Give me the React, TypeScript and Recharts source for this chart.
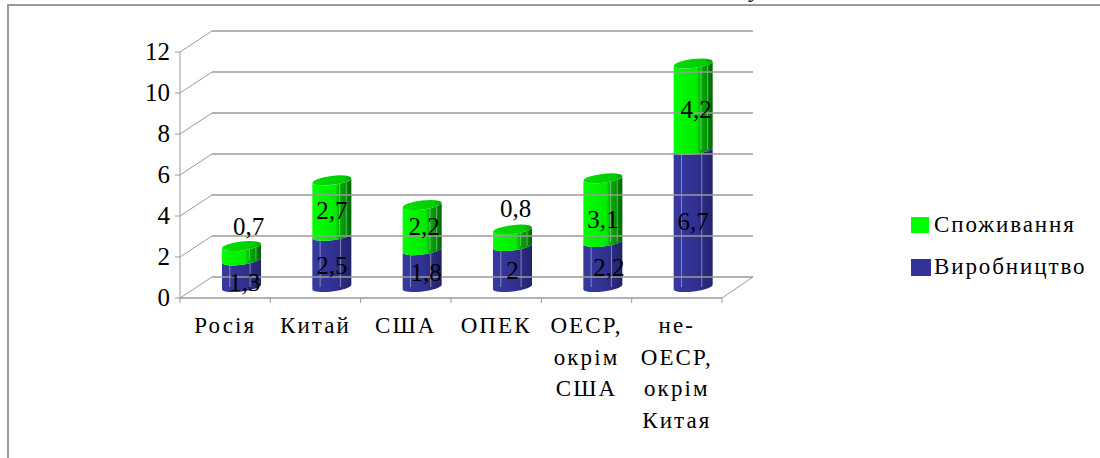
import { BarChart, Bar, XAxis, YAxis, LabelList, Legend } from "recharts";

const categories = ["Росія", "Китай", "США", "ОПЕК", "ОЕСР, окрім США", "не- ОЕСР, окрім Китая"];
const production = [1.3, 2.5, 1.8, 2, 2.2, 6.7];
const consumption = [0.7, 2.7, 2.2, 0.8, 3.1, 4.2];
const yTicks = [0, 2, 4, 6, 8, 10, 12];

const data = categories.map((name, i) => ({ name, production: production[i], consumption: consumption[i] }));

const CHART_W = 1100;
const CHART_H = 458;
const PLOT_LEFT = 180;
const PLOT_RIGHT = 722;
const PLOT_TOP = 52;
const PLOT_BOTTOM = 298;
const BAND = (PLOT_RIGHT - PLOT_LEFT) / categories.length;
const LEGEND_W = 190;

// the fake 3D floor: how far the back wall sits from the front plane
const DEPTH_X = 31;
const DEPTH_Y = 21;
// columns stand halfway into that depth
const BAR_SHIFT_X = 16;
const BAR_SHIFT_Y = -11;
const TILT = 7;

const GRID = "#9a9a9a";
const FONT = "'Liberation Serif', serif";

// hand placed labels, same as in the source workbook
const productionNudge = [[3, 9], [0, 5], [4, 4], [0, 4], [6, 4], [0, 4]];
const consumptionNudge = [[7, -26], [0, 3], [2, -1], [3, -29], [0, 10], [3, 3]];

function YTick({ y, payload }: any) {
  const value = payload.value;
  const fx = PLOT_LEFT;
  return (
    <g>
      <line x1={fx - 5} y1={y} x2={fx} y2={y} stroke={GRID} />
      <line x1={fx} y1={y} x2={fx + DEPTH_X + 1} y2={y - DEPTH_Y} stroke={GRID} />
      <line x1={fx + DEPTH_X + 1} y1={y - DEPTH_Y} x2={PLOT_RIGHT + DEPTH_X} y2={y - DEPTH_Y} stroke={GRID} strokeWidth={1.4} />
      {value === 0 && (
        <line x1={PLOT_RIGHT} y1={y} x2={PLOT_RIGHT + DEPTH_X} y2={y - DEPTH_Y} stroke={GRID} />
      )}
      <text x={fx - 10} y={y + 8} textAnchor="end" fontFamily={FONT} fontSize={25} fill="#000">
        {value}
      </text>
    </g>
  );
}

function XTick({ x, payload, index }: any) {
  const lines = String(payload.value).split(" ");
  return (
    <g>
      <line x1={x - BAND / 2} y1={PLOT_BOTTOM} x2={x - BAND / 2} y2={PLOT_BOTTOM + 5} stroke={GRID} />
      {index === categories.length - 1 && (
        <line x1={x + BAND / 2} y1={PLOT_BOTTOM} x2={x + BAND / 2} y2={PLOT_BOTTOM + 5} stroke={GRID} />
      )}
      <text textAnchor="middle" fontFamily={FONT} fontSize={23} letterSpacing={2.1} fill="#000">
        {lines.map((line, i) => (
          <tspan key={i} x={x} y={PLOT_BOTTOM + 35 + i * 31.5}>
            {line}
          </tspan>
        ))}
      </text>
    </g>
  );
}

// one stacked segment drawn as a slightly tilted cylinder
function Cylinder({ x, y, width, height, fill, capFill, ribs, withCap }: any) {
  const cx = x + width / 2 + BAR_SHIFT_X;
  const top = y + BAR_SHIFT_Y;
  const bottom = y + height + BAR_SHIFT_Y;
  const rx = width / 2;
  const ry = 4.5;
  const dy = rx * Math.tan((TILT * Math.PI) / 180);
  const lx = cx - rx;
  const rxEnd = cx + rx;
  const body =
    `M${lx},${top + dy} A${rx},${ry} ${-TILT} 0 0 ${rxEnd},${top - dy} ` +
    `L${rxEnd},${bottom - dy} A${rx},${ry} ${-TILT} 0 1 ${lx},${bottom + dy} Z`;
  return (
    <g>
      <path d={body} fill={fill} />
      {ribs.map((f: number) => (
        <line
          key={f}
          x1={lx + f * width}
          x2={lx + f * width}
          y1={top + 2}
          y2={bottom}
          stroke="#c8cce0"
          strokeOpacity={0.55}
        />
      ))}
      {withCap && <ellipse cx={cx} cy={top} rx={rx} ry={ry} transform={`rotate(${-TILT} ${cx} ${top})`} fill={capFill} />}
    </g>
  );
}

function ValueLabel({ x, y, width, height, value, index, nudge }: any) {
  const [nx, ny] = nudge[index];
  return (
    <text
      x={x + width / 2 + BAR_SHIFT_X + nx}
      y={y + height / 2 + BAR_SHIFT_Y + ny + 8}
      textAnchor="middle"
      fontFamily={FONT}
      fontSize={25}
      fill="#000"
    >
      {String(value).replace(".", ",")}
    </text>
  );
}

function LegendBox() {
  const items = [
    { label: "Споживання", color: "#00ff00", top: 0, w: 18, h: 16 },
    { label: "Виробництво", color: "#333399", top: 42, w: 20, h: 17 },
  ];
  return (
    <div style={{ position: "relative", height: 70, width: LEGEND_W }}>
      {items.map((it) => (
        <div key={it.label} style={{ position: "absolute", left: 0, top: it.top }}>
          <span style={{ position: "absolute", left: 1, top: 0, width: it.w, height: it.h, background: it.color }} />
          <span
            style={{
              position: "absolute",
              left: 24,
              top: -5,
              fontFamily: FONT,
              fontSize: 23,
              letterSpacing: 1.9,
              lineHeight: "26px",
              whiteSpace: "nowrap",
              color: "#000",
            }}
          >
            {it.label}
          </span>
        </div>
      ))}
    </div>
  );
}

export default function App() {
  return (
    <div
      style={{
        position: "absolute",
        left: 0,
        top: 0,
        width: CHART_W,
        height: CHART_H,
        overflow: "hidden",
        background: "#fff",
      }}
    >
      <div style={{ position: "absolute", left: 7, top: 4, width: CHART_W, height: CHART_H, borderLeft: `2px solid ${GRID}`, borderTop: `2px solid ${GRID}` }} />
      {/* tail of the heading that runs off the top edge */}
      <span style={{ position: "absolute", left: 748, top: -24, fontFamily: FONT, fontSize: 24, lineHeight: "26px" }}>у</span>
      <BarChart
        width={CHART_W}
        height={CHART_H}
        data={data}
        barSize={39}
        margin={{ top: PLOT_TOP, right: CHART_W - PLOT_RIGHT - LEGEND_W, bottom: 0, left: 0 }}
        style={{ position: "absolute", left: 0, top: 0 }}
      >
        <defs>
          <linearGradient id="blueBody" x1="0" y1="0" x2="1" y2="0">
            <stop offset="0" stopColor="#363aa0" />
            <stop offset="0.6" stopColor="#30308e" />
            <stop offset="1" stopColor="#22226a" />
          </linearGradient>
          <linearGradient id="greenBody" x1="0" y1="0" x2="1" y2="0">
            <stop offset="0" stopColor="#00ff00" />
            <stop offset="0.6" stopColor="#00ea00" />
            <stop offset="0.68" stopColor="#00b400" />
            <stop offset="0.85" stopColor="#009000" />
            <stop offset="1" stopColor="#006400" />
          </linearGradient>
          <linearGradient id="greenCap" x1="0" y1="0" x2="1" y2="0">
            <stop offset="0" stopColor="#00e000" />
            <stop offset="0.8" stopColor="#00cc00" />
            <stop offset="1" stopColor="#00a800" />
          </linearGradient>
        </defs>
        <YAxis
          domain={[0, 12]}
          ticks={yTicks}
          width={PLOT_LEFT}
          interval={0}
          tickLine={false}
          axisLine={{ stroke: GRID }}
          tick={<YTick />}
        />
        <XAxis
          dataKey="name"
          height={CHART_H - PLOT_BOTTOM}
          interval={0}
          tickLine={false}
          axisLine={{ stroke: GRID, strokeWidth: 1.4 }}
          tick={<XTick />}
        />
        <Legend
          layout="vertical"
          align="right"
          verticalAlign="top"
          content={<LegendBox />}
          wrapperStyle={{ position: "absolute", left: 910, top: 217, width: LEGEND_W }}
        />
        <Bar
          dataKey="production"
          name="Виробництво"
          stackId="a"
          fill="#333399"
          isAnimationActive={false}
          shape={(p: any) => <Cylinder {...p} fill="url(#blueBody)" ribs={[0.2, 0.72]} />}
        >
          <LabelList dataKey="production" content={<ValueLabel nudge={productionNudge} />} />
        </Bar>
        <Bar
          dataKey="consumption"
          name="Споживання"
          stackId="a"
          fill="#00ff00"
          isAnimationActive={false}
          shape={(p: any) => <Cylinder {...p} fill="url(#greenBody)" capFill="url(#greenCap)" ribs={[0.7, 0.87]} withCap />}
        >
          <LabelList dataKey="consumption" content={<ValueLabel nudge={consumptionNudge} />} />
        </Bar>
      </BarChart>
    </div>
  );
}
